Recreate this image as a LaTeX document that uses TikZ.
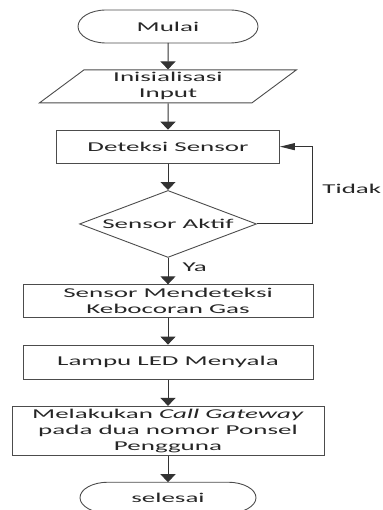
\documentclass[tikz,border=0pt]{standalone}
\usepackage{fontspec}
\setmainfont{Carlito}[FakeStretch=2.0]
\usetikzlibrary{shapes.geometric, arrows.meta, positioning, calc}

\tikzset{
  line/.style={draw=black!70, line width=0.9pt},
  box/.style={rectangle, line, minimum height=33pt, align=center, inner sep=1pt},
  io/.style={trapezium, line, trapezium left angle=45, trapezium right angle=135,
             trapezium stretches=true, minimum width=257pt, minimum height=33pt,
             align=center, inner sep=1pt},
  term/.style={rectangle, outer sep=0pt, minimum width=180pt, minimum height=33pt},
  dec/.style={diamond, line, minimum width=177pt, minimum height=67pt, inner sep=0pt},
  arr/.style={-{Triangle[width=15pt,length=8pt]}, draw=black!80, line width=1pt},
  harr/.style={-{Triangle[width=7pt,length=15pt]}, draw=black!80, line width=1pt},
  lbl/.style={inner sep=0pt},
}

% outline of a start/end box with flat elliptic ends
\newcommand{\termedge}[3]{%
  \draw[line] ([xshift=#2]#1.north west) -- ([xshift=-#2]#1.north east)
    arc[start angle=90, end angle=-90, x radius=#2, y radius=#3]
    -- ([xshift=#2]#1.south west)
    arc[start angle=270, end angle=90, x radius=#2, y radius=#3] -- cycle;}

\begin{document}
\begin{tikzpicture}[x=1pt, y=1pt, node distance=26.4pt,
  font=\fontsize{13.5pt}{16pt}\selectfont, text=black!85]
  \useasboundingbox (0,0) rectangle (382,-510);

  \node[term] (mulai) at (168,-26.5) {Mulai};
  \node[io, below=of mulai] (input) {Inisialisasi\\Input};
  \node[box, minimum width=223pt, below=of input] (deteksi) {Deteksi Sensor};
  \node[dec, below=of deteksi, label={[lbl]center:Sensor Aktif}] (aktif) {};
  \node[box, minimum width=290pt, below=of aktif] (gas) {Sensor Mendeteksi\\Kebocoran Gas};
  \node[box, minimum width=290pt, minimum height=34pt, below=of gas] (led) {Lampu LED Menyala};
  \node[box, minimum width=312pt, minimum height=49pt, below=of led] (call)
    {Melakukan \textit{Call Gateway}\\pada dua nomor Ponsel\\Pengguna};
  \node[term, minimum width=176pt, minimum height=31pt, below=of call] (selesai) {selesai};

  \termedge{mulai}{28pt}{16.5pt}
  \termedge{selesai}{28pt}{15.5pt}

  \draw[arr] (mulai) -- (input);
  \draw[arr] (input) -- (deteksi);
  \draw[arr] (deteksi) -- (aktif);
  \draw[arr] (aktif) -- node[lbl, right=14pt, pos=0.36] (ya) {Ya} (gas);
  \draw[arr] (gas) -- (led);
  \draw[arr] (led) -- (call);
  \draw[arr] (call) -- (selesai);
  \draw[harr] (aktif.east) -- ++(56,0) |- node[lbl, right=9pt, pos=0.23] (tidak) {Tidak} (deteksi.east);
\end{tikzpicture}
\end{document}
